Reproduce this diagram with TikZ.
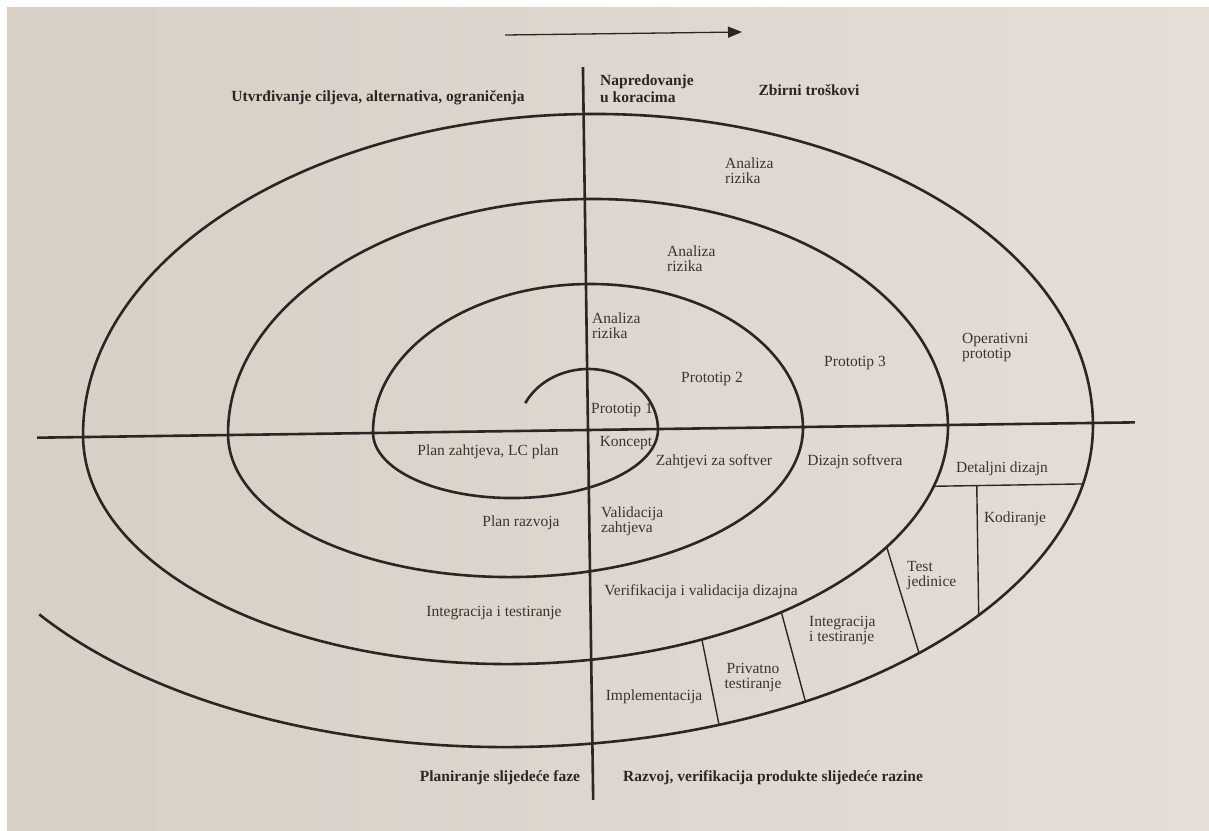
\documentclass[tikz,border=0pt]{standalone}
\usepackage{fontspec}
\setmainfont{Liberation Serif}
\usetikzlibrary{arrows.meta}
\definecolor{ink}{HTML}{2B2622}
\definecolor{txt}{HTML}{3A342F}
\definecolor{paperL}{HTML}{D8CFC6}
\definecolor{paperR}{HTML}{E4DED7}
\begin{document}
\begin{tikzpicture}[x=1pt,y=1pt,
  spiral/.style={draw=ink, line width=2.6pt},
  axisline/.style={draw=ink, line width=2.6pt},
  divider/.style={draw=ink, line width=1.4pt},
  lbl/.style={text=txt, font=\fontsize{15.5}{15}\selectfont, inner sep=0pt},
  hdr/.style={text=ink, font=\fontsize{15.5}{16.5}\selectfont\bfseries, inner sep=0pt},
]
\useasboundingbox (0,0) rectangle (1209,-830);
\fill[white] (0,0) rectangle (1209,-830);
\shade[left color=paperL, right color=paperR] (7,-7) rectangle (1209,-830);

% top arrow
\coordinate (arrS) at (505,-35);
\coordinate (arrE) at (742,-32);
\draw[ink, line width=1.3pt, -{Triangle[length=14pt,width=11pt]}] (arrS) -- (arrE);

\begin{scope}[shift={(588,-430)}, rotate=0.8]
  % dividers of the outer band
  \coordinate (D1a) at ({-72.5+432.5*cos(-15.2)},{233*sin(-15.2)});
  \coordinate (D1b) at ({-72.5+577.5*cos(-11.1)},{316*sin(-11.1)});
  \draw[divider] (D1a) -- (D1b);
  \coordinate (D2a) at (388,{316*sin(-11.1)});
  \coordinate (D2b) at ({-72.5+577.5*cos(-37.1)},{316*sin(-37.1)});
  \draw[divider] (D2a) -- (D2b);
  \coordinate (D3a) at ({-72.5+432.5*cos(-31.3)},{233*sin(-31.3)});
  \coordinate (D3b) at ({-72.5+577.5*cos(-46.1)},{316*sin(-46.1)});
  \draw[divider] (D3a) -- (D3b);
  \coordinate (D4a) at ({-72.5+432.5*cos(-52.5)},{233*sin(-52.5)});
  \coordinate (D4b) at ({-72.5+577.5*cos(-60.3)},{316*sin(-60.3)});
  \draw[divider] (D4a) -- (D4b);
  \coordinate (D5a) at ({-72.5+432.5*cos(-64.9)},{233*sin(-64.9)});
  \coordinate (D5b) at ({-72.5+577.5*cos(-69.8)},{316*sin(-69.8)});
  \draw[divider] (D5a) -- (D5b);

  % axes
  \coordinate (vt) at (0,363);
  \coordinate (vb) at (0,-370);
  \coordinate (hl) at (-551,0);
  \coordinate (hr) at (547,0);
  \draw[axisline] (vt) -- (vb);
  \draw[axisline] (hl) -- (hr);

  % spiral
  \coordinate (sp0) at ({70*cos(153)},{61*sin(153)});
  \draw[spiral] (sp0)
    arc[start angle=153, end angle=0, x radius=70, y radius=61]
    arc[start angle=0, end angle=-180, x radius=142.5, y radius=67]
    arc[start angle=180, end angle=0, x radius=215, y radius=146]
    arc[start angle=0, end angle=-180, x radius=287.5, y radius=146]
    arc[start angle=180, end angle=0, x radius=360, y radius=231]
    arc[start angle=0, end angle=-180, x radius=432.5, y radius=233]
    arc[start angle=180, end angle=0, x radius=505, y radius=316]
    arc[start angle=0, end angle=-146, x radius=577.5, y radius=316];
\end{scope}

% headings (bold)
\node[hdr] (h1) at (378,-98) {Utvrđivanje ciljeva, alternativa, ograničenja};
\node[hdr, align=left, anchor=west] (h2) at (600,-88.5) {Napredovanje\\u koracima};
\node[hdr] (h3) at (809,-90) {Zbirni troškovi};
\node[hdr] (h4) at (500,-778) {Planiranje slijedeće faze};
\node[hdr] (h5) at (773,-778) {Razvoj, verifikacija produkte slijedeće razine};

% labels
\node[lbl, align=left, anchor=west] (ar3) at (725,-171) {Analiza\\rizika};
\node[lbl, align=left, anchor=west] (ar2) at (667,-258.5) {Analiza\\rizika};
\node[lbl, align=left, anchor=west] (ar1) at (592,-325.5) {Analiza\\rizika};
\node[lbl] (p2) at (712,-379) {Prototip 2};
\node[lbl] (p3) at (855,-363) {Prototip 3};
\node[lbl, align=left, anchor=west] (op) at (962,-348) {Operativni\\prototip};
\node[lbl] (p1) at (622,-410) {Prototip 1};
\node[lbl] (ko) at (626,-443) {Koncept};
\node[lbl] (pz) at (488,-452) {Plan zahtjeva, LC plan};
\node[lbl] (zs) at (714,-462) {Zahtjevi za softver};
\node[lbl] (ds) at (855,-462) {Dizajn softvera};
\node[lbl] (dd) at (1002,-469) {Detaljni dizajn};
\node[lbl] (kod) at (1015,-519) {Kodiranje};
\node[lbl] (pr) at (521,-523) {Plan razvoja};
\node[lbl, align=left, anchor=west] (vz) at (601,-521) {Validacija\\zahtjeva};
\node[lbl, align=left, anchor=west] (tj) at (907,-575.5) {Test\\jedinice};
\node[lbl] (vvd) at (701,-592) {Verifikacija i validacija dizajna};
\node[lbl] (it1) at (494,-613) {Integracija i testiranje};
\node[lbl, align=left, anchor=west] (it2) at (809,-631) {Integracija\\i testiranje};
\node[lbl, align=center] (pt) at (753,-678) {Privatno\\testiranje};
\node[lbl] (im) at (654,-697) {Implementacija};
\end{tikzpicture}
\end{document}
